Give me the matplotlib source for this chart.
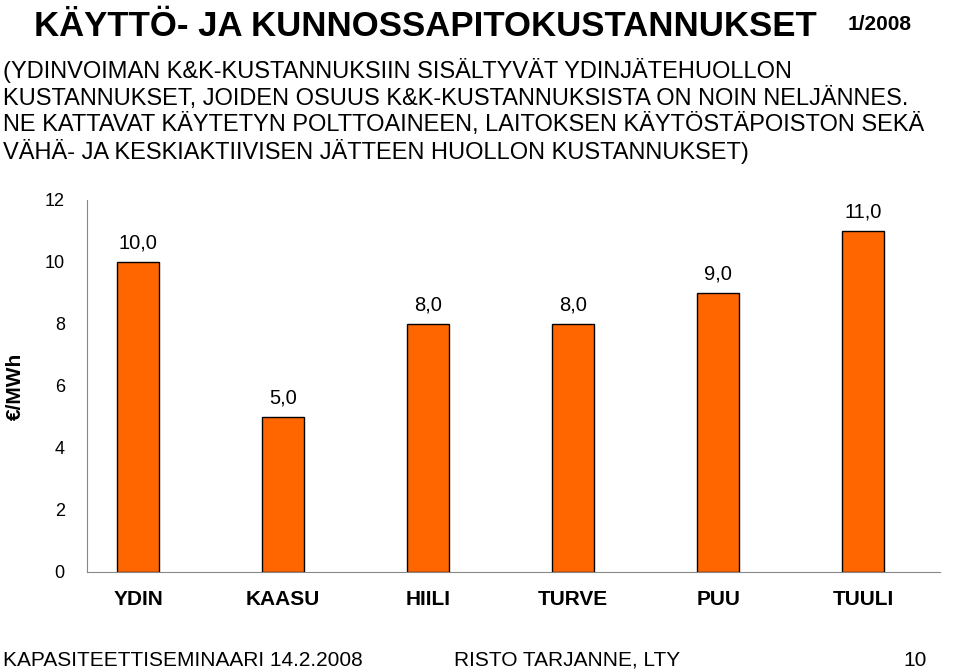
import matplotlib
matplotlib.use("Agg")
import matplotlib.pyplot as plt

categories = ["YDIN", "KAASU", "HIILI", "TURVE", "PUU", "TUULI"]
values = [10.0, 5.0, 8.0, 8.0, 9.0, 11.0]
yticks = [0, 2, 4, 6, 8, 10, 12]

plt.rcParams["font.family"] = "Liberation Sans"
fig = plt.figure(figsize=(9.6, 6.7), dpi=100)
ax = fig.add_axes([87/960, 1-572/670, 853/960, 372/670])
x = list(range(len(categories)))
ax.bar(x, values, width=0.29, color="#FF6600", edgecolor="black", linewidth=1)
for xi, v in zip(x, values):
    ax.text(xi, v + 0.3, f"{v:.1f}".replace(".", ","), ha="center", va="bottom", fontsize=14.5)
ax.set_xlim(-0.352, 5.53)
ax.set_ylim(0, 12)
ax.set_yticks(yticks)
ax.set_xticks(x)
ax.set_xticklabels(categories, fontsize=15, fontweight="bold")
ax.tick_params(axis="y", labelsize=13, length=0, pad=16)
ax.tick_params(axis="x", length=0, pad=13)
for s in ["top", "right"]:
    ax.spines[s].set_visible(False)
ax.spines["left"].set_color("#888888")
ax.spines["bottom"].set_color("#888888")
ax.set_ylabel("€/MWh", fontsize=15, fontweight="bold", labelpad=14)

fig.text(0.035, 0.985, "KÄYTTÖ- JA KUNNOSSAPITOKUSTANNUKSET", fontsize=25, fontweight="bold", va="top")
fig.text(0.95, 0.978, "1/2008", fontsize=15, fontweight="bold", va="top", ha="right")
sub = ("(YDINVOIMAN K&K-KUSTANNUKSIIN SISÄLTYVÄT YDINJÄTEHUOLLON\n"
       "KUSTANNUKSET, JOIDEN OSUUS K&K-KUSTANNUKSISTA ON NOIN NELJÄNNES.\n"
       "NE KATTAVAT KÄYTETYN POLTTOAINEEN, LAITOKSEN KÄYTÖSTÄPOISTON SEKÄ\n"
       "VÄHÄ- JA KESKIAKTIIVISEN JÄTTEEN HUOLLON KUSTANNUKSET)")
fig.text(0.003, 0.913, sub, fontsize=17, va="top", linespacing=1.18)
fig.text(0.003, 0.0, "KAPASITEETTISEMINAARI 14.2.2008", fontsize=15, va="bottom")
fig.text(0.473, 0.0, "RISTO TARJANNE, LTY", fontsize=15, va="bottom")
fig.text(0.965, 0.0, "10", fontsize=15, va="bottom", ha="right")
fig.savefig("out.png", dpi=100)
